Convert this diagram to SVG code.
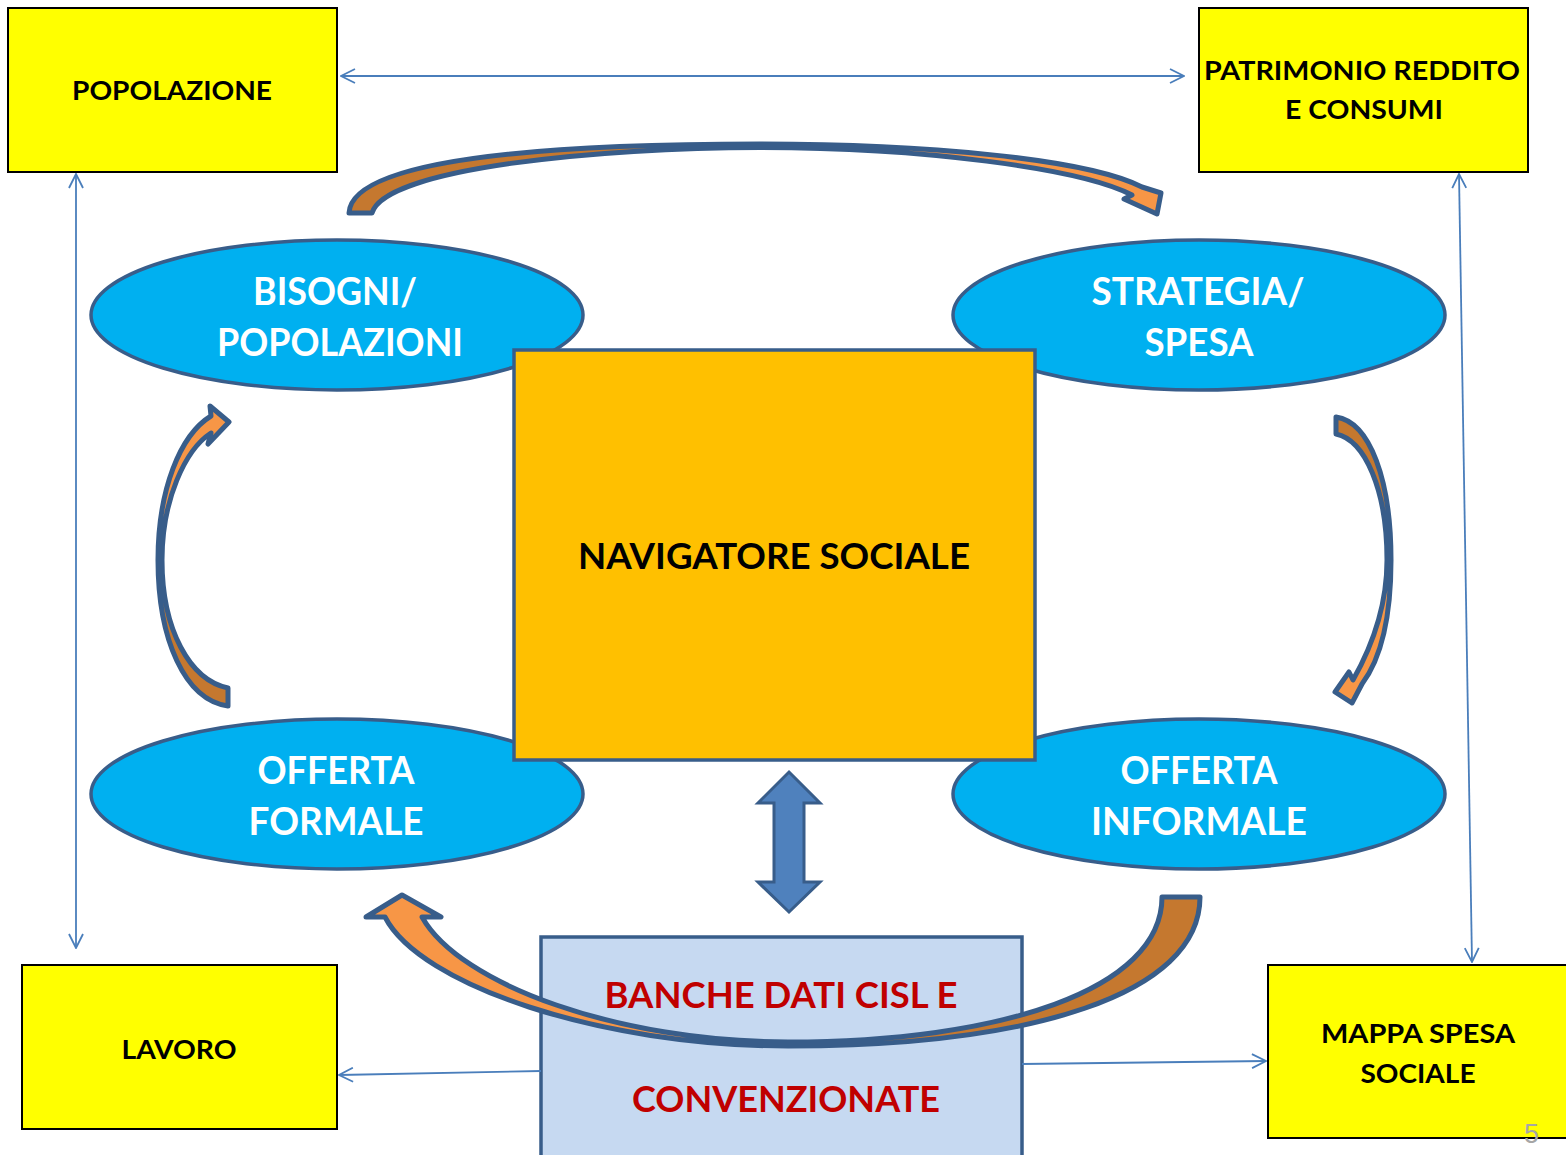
<svg xmlns="http://www.w3.org/2000/svg" width="1566" height="1155" viewBox="0 0 1566 1155">
<style>
.ybox{fill:#FFFF00;stroke:#000;stroke-width:2}
.ell{fill:#00B0F0;stroke:#385D8A;stroke-width:3.5}
.bt{font-family:Lato,"Open Sans","Liberation Sans",sans-serif;font-weight:bold;text-anchor:middle}
.blk{fill:#000;font-size:27px}
.wht{fill:#fff;font-size:38px}
.red{fill:#C00000;font-size:37px}
.thin{stroke:#4A7EBB;stroke-width:1.8;fill:none}
.curv{stroke:#385D8A;stroke-width:5;stroke-linejoin:round}
</style>
<defs>
<marker id="oh" viewBox="0 0 16 16" refX="15" refY="8" markerWidth="16" markerHeight="16" markerUnits="userSpaceOnUse" orient="auto-start-reverse">
<path d="M1,1 L15,8 L1,15" fill="none" stroke="#4A7EBB" stroke-width="1.8"/>
</marker>
<linearGradient id="gTop" gradientUnits="userSpaceOnUse" x1="350" y1="0" x2="1160" y2="0">
<stop offset="0" stop-color="#C5782F"/><stop offset="0.5" stop-color="#C5782F"/><stop offset="0.5" stop-color="#F79646"/><stop offset="1" stop-color="#F79646"/>
</linearGradient>
<linearGradient id="gLeft" gradientUnits="userSpaceOnUse" x1="0" y1="706" x2="0" y2="406">
<stop offset="0" stop-color="#C5782F"/><stop offset="0.5" stop-color="#C5782F"/><stop offset="0.5" stop-color="#F79646"/><stop offset="1" stop-color="#F79646"/>
</linearGradient>
<linearGradient id="gRight" gradientUnits="userSpaceOnUse" x1="0" y1="417" x2="0" y2="703">
<stop offset="0" stop-color="#C5782F"/><stop offset="0.5" stop-color="#C5782F"/><stop offset="0.5" stop-color="#F79646"/><stop offset="1" stop-color="#F79646"/>
</linearGradient>
<linearGradient id="gBot" gradientUnits="userSpaceOnUse" x1="1200" y1="0" x2="366" y2="0">
<stop offset="0" stop-color="#C5782F"/><stop offset="0.5" stop-color="#C5782F"/><stop offset="0.5" stop-color="#F79646"/><stop offset="1" stop-color="#F79646"/>
</linearGradient>
</defs>
<rect width="1566" height="1155" fill="#fff"/>

<g id="node-popolazione">
<rect class="ybox" x="8" y="8" width="329" height="164"/>
<text class="bt blk" x="172" y="100" textLength="200" lengthAdjust="spacingAndGlyphs">POPOLAZIONE</text>
</g>
<g id="node-patrimonio">
<rect class="ybox" x="1199" y="8" width="329" height="164"/>
<text class="bt blk" x="1362" y="80" textLength="316" lengthAdjust="spacingAndGlyphs">PATRIMONIO REDDITO</text>
<text class="bt blk" x="1364" y="119" textLength="158" lengthAdjust="spacingAndGlyphs">E CONSUMI</text>
</g>
<g id="node-lavoro">
<rect class="ybox" x="22" y="965" width="315" height="164"/>
<text class="bt blk" x="179" y="1059" textLength="115" lengthAdjust="spacingAndGlyphs">LAVORO</text>
</g>
<g id="node-mappa">
<rect class="ybox" x="1268" y="965" width="310" height="173"/>
<text class="bt blk" x="1418" y="1043" textLength="194" lengthAdjust="spacingAndGlyphs">MAPPA SPESA</text>
<text class="bt blk" x="1418" y="1083" textLength="115" lengthAdjust="spacingAndGlyphs">SOCIALE</text>
</g>

<g id="node-bisogni">
<ellipse class="ell" cx="337" cy="315" rx="246" ry="75"/>
<text class="bt wht" x="335" y="305" textLength="164" lengthAdjust="spacingAndGlyphs">BISOGNI/</text>
<text class="bt wht" x="340" y="356" textLength="246" lengthAdjust="spacingAndGlyphs">POPOLAZIONI</text>
</g>
<g id="node-strategia">
<ellipse class="ell" cx="1199" cy="315" rx="246" ry="75"/>
<text class="bt wht" x="1198" y="305" textLength="213" lengthAdjust="spacingAndGlyphs">STRATEGIA/</text>
<text class="bt wht" x="1199" y="356" textLength="109" lengthAdjust="spacingAndGlyphs">SPESA</text>
</g>
<g id="node-offerta-formale">
<ellipse class="ell" cx="337" cy="794" rx="246" ry="75"/>
<text class="bt wht" x="336" y="784" textLength="157" lengthAdjust="spacingAndGlyphs">OFFERTA</text>
<text class="bt wht" x="336" y="835" textLength="175" lengthAdjust="spacingAndGlyphs">FORMALE</text>
</g>
<g id="node-offerta-informale">
<ellipse class="ell" cx="1199" cy="794" rx="246" ry="75"/>
<text class="bt wht" x="1199" y="784" textLength="157" lengthAdjust="spacingAndGlyphs">OFFERTA</text>
<text class="bt wht" x="1199" y="835" textLength="216" lengthAdjust="spacingAndGlyphs">INFORMALE</text>
</g>

<g id="node-navigatore">
<rect x="514" y="350" width="521" height="410" fill="#FFC000" stroke="#385D8A" stroke-width="3.5"/>
<text class="bt" x="774" y="569" font-size="37" fill="#000" textLength="392" lengthAdjust="spacingAndGlyphs">NAVIGATORE SOCIALE</text>
</g>

<g id="node-banche">
<rect x="541" y="937" width="481" height="230" fill="#C6D9F1" stroke="#385D8A" stroke-width="3.5"/>
<text class="bt red" x="781" y="1008" textLength="353" lengthAdjust="spacingAndGlyphs">BANCHE DATI CISL E</text>
<text class="bt red" x="786" y="1112" textLength="308" lengthAdjust="spacingAndGlyphs">CONVENZIONATE</text>
</g>

<g id="connectors">
<line class="thin" x1="341" y1="76" x2="1184" y2="76" marker-start="url(#oh)" marker-end="url(#oh)"/>
<line class="thin" x1="76" y1="174" x2="76" y2="948" marker-start="url(#oh)" marker-end="url(#oh)"/>
<line class="thin" x1="1459" y1="174" x2="1472" y2="962" marker-start="url(#oh)" marker-end="url(#oh)"/>
<line class="thin" x1="541" y1="1071" x2="339" y2="1075" marker-end="url(#oh)"/>
<line class="thin" x1="1022" y1="1064" x2="1266" y2="1061" marker-end="url(#oh)"/>

<path id="arrow-top" class="curv" fill="url(#gTop)" d="M349 213 C352 152 600 144 760 144 C920 144 1085 158 1142 187 L1161 193 L1157 214 L1124 199 L1132 195 C1080 168 920 147.5 760 147.5 C600 147.5 385 168 372 213 Z"/>
<path id="arrow-left" class="curv" fill="url(#gLeft)" d="M228 706 C185 700 158 640 158 560 C158 490 180 435 211 416 L210 406 L229 422 L208 444 L211 433 C185 450 162 500 162 560 C162 630 190 680 228 688 Z"/>
<path id="arrow-right" class="curv" fill="url(#gRight)" d="M1336 417 C1370 422 1391 480 1391 560 C1391 620 1380 660 1362 684 L1352 703 L1335 692 L1349 672 L1353 680 C1370 650 1387 610 1387 560 C1387 490 1365 440 1336 434 Z"/>
<path id="arrow-bottom" class="curv" fill="url(#gBot)" d="M1200 897 C1200 995 1030 1046 788 1046 C600 1046 420 985 385 917 L366 917 L402 895 L441 917 L422 917 C460 985 620 1042 788 1042 C1000 1042 1162 990 1162 897 Z"/>
<path id="arrow-double" d="M789 772 L820 803 L804 803 L804 882 L820 882 L789 912 L758 882 L774 882 L774 803 L758 803 Z" fill="#4F81BD" stroke="#385D8A" stroke-width="3" stroke-linejoin="miter"/>
</g>

<text x="1524" y="1143" font-family="'Liberation Sans',Arial,sans-serif" font-size="27" fill="#A6A6A6">5</text>
</svg>
